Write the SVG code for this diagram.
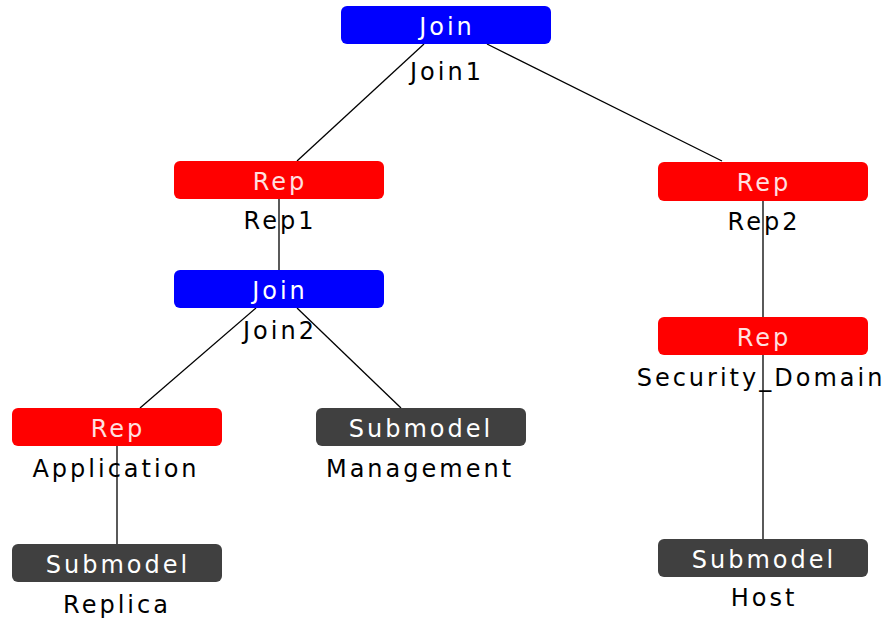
<svg xmlns="http://www.w3.org/2000/svg" width="887" height="621" viewBox="0 0 887 621">
<style>
.box{stroke:none}
.join{fill:#0000ff}
.rep{fill:#ff0000}
.sub{fill:#404040}
.t{font-family:"DejaVu Sans",sans-serif;font-size:24px;text-anchor:middle;letter-spacing:3px}
.in{fill:#ffffff}
.rin{fill:#ffe0e0}
.lbl{fill:#000000}
.edge{stroke:#000;stroke-width:1.3;fill:none}
</style>
<rect width="887" height="621" fill="#fff"/>
<g id="connectors">
<line class="edge" x1="424" y1="44" x2="297" y2="161"/>
<line class="edge" x1="487" y1="44" x2="722" y2="161"/>
<line class="edge" x1="279" y1="199" x2="279" y2="270"/>
<line class="edge" x1="256" y1="308" x2="140" y2="408"/>
<line class="edge" x1="297" y1="308" x2="401" y2="408"/>
<line class="edge" x1="763" y1="201" x2="763" y2="317"/>
<line class="edge" x1="763" y1="355" x2="763" y2="539"/>
<line class="edge" x1="117" y1="446" x2="117" y2="544"/>
</g>
<g id="join1">
<rect class="box join" x="341" y="6" width="210" height="38" rx="6"/>
<text class="t in" x="447" y="35">Join</text>
<text class="t lbl" x="447" y="80">Join1</text>
</g>
<g id="rep1">
<rect class="box rep" x="174" y="161" width="210" height="38" rx="6"/>
<text class="t rin" x="280" y="190">Rep</text>
<text class="t lbl" x="280" y="229">Rep1</text>
</g>
<g id="rep2">
<rect class="box rep" x="658" y="162" width="210" height="39" rx="6"/>
<text class="t rin" x="764" y="191">Rep</text>
<text class="t lbl" x="764" y="230">Rep2</text>
</g>
<g id="join2">
<rect class="box join" x="174" y="270" width="210" height="38" rx="6"/>
<text class="t in" x="280" y="299">Join</text>
<text class="t lbl" x="280" y="339">Join2</text>
</g>
<g id="security_domain">
<rect class="box rep" x="658" y="317" width="210" height="38" rx="6"/>
<text class="t rin" x="764" y="346">Rep</text>
<text class="t lbl" x="761" y="386">Security_Domain</text>
</g>
<g id="application">
<rect class="box rep" x="12" y="408" width="210" height="38" rx="6"/>
<text class="t rin" x="118" y="437">Rep</text>
<text class="t lbl" x="116" y="477">Application</text>
</g>
<g id="management">
<rect class="box sub" x="316" y="408" width="210" height="38" rx="6"/>
<text class="t in" x="421" y="437">Submodel</text>
<text class="t lbl" x="420" y="477">Management</text>
</g>
<g id="replica">
<rect class="box sub" x="12" y="544" width="210" height="38" rx="6"/>
<text class="t in" x="118" y="573">Submodel</text>
<text class="t lbl" x="117" y="613">Replica</text>
</g>
<g id="host">
<rect class="box sub" x="658" y="539" width="210" height="38" rx="6"/>
<text class="t in" x="764" y="568">Submodel</text>
<text class="t lbl" x="764" y="606">Host</text>
</g>
</svg>
